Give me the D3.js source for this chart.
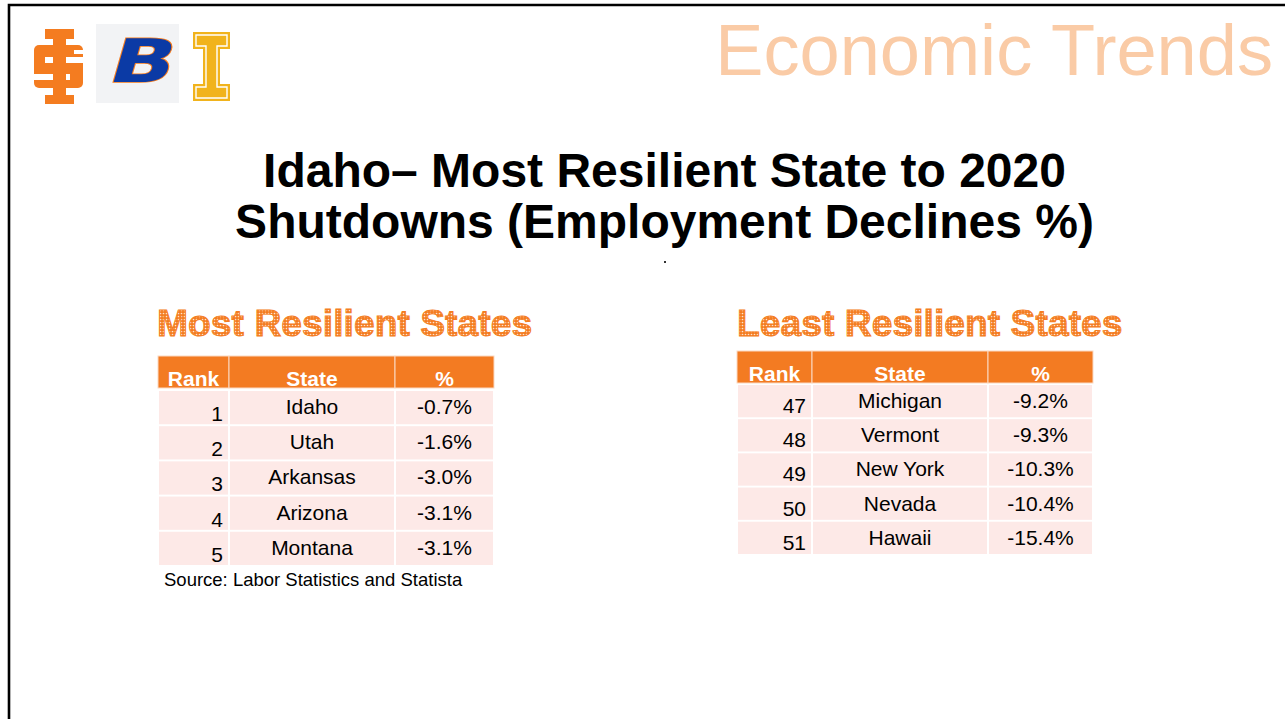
<!DOCTYPE html>
<html><head><meta charset="utf-8">
<script src="https://cdn.jsdelivr.net/npm/d3@7"></script>
<style>html,body{margin:0;padding:0;background:#fff;}svg{display:block;}</style>
</head><body>
<script>
// ---- data ----
const headers = ["Rank", "State", "%"];
const mostRanks = [1, 2, 3, 4, 5];
const mostStates = ["Idaho", "Utah", "Arkansas", "Arizona", "Montana"];
const mostPct = [-0.7, -1.6, -3.0, -3.1, -3.1];
const leastRanks = [47, 48, 49, 50, 51];
const leastStates = ["Michigan", "Vermont", "New York", "Nevada", "Hawaii"];
const leastPct = [-9.2, -9.3, -10.3, -10.4, -15.4];
const titleLines = ["Idaho\u2013 Most Resilient State to 2020", "Shutdowns (Employment Declines %)"];
const banner = "Economic Trends";
const source = "Source: Labor Statistics and Statista";

const W = 1285, H = 719;
const svg = d3.select("body").append("svg").attr("width", W).attr("height", H);
svg.append("rect").attr("width", W).attr("height", H).attr("fill", "#fff");

const defs = svg.append("defs");
const pat = defs.append("pattern").attr("id", "dots").attr("patternUnits", "userSpaceOnUse")
  .attr("width", 3).attr("height", 3);
pat.append("rect").attr("width", 3).attr("height", 3).attr("fill", "#F47C20");
pat.append("circle").attr("cx", 1.5).attr("cy", 1.5).attr("r", 0.85).attr("fill", "#FDE3CF");

// frame
svg.append("path").attr("d", `M9,${H + 10} L9,5 L${W + 10},5`).attr("fill", "none")
  .attr("stroke", "#000").attr("stroke-width", 2.6);

const FONT = "'Liberation Sans', Arial, sans-serif";

// ---- logos ----
const orange = "#F47C20";
const lg = svg.append("g");
// ISU logo
lg.append("rect").attr("x", 45).attr("y", 29).attr("width", 29).attr("height", 10).attr("fill", orange);
lg.append("rect").attr("x", 45).attr("y", 95).attr("width", 29).attr("height", 9).attr("fill", orange);
lg.append("rect").attr("x", 34).attr("y", 45).attr("width", 49).attr("height", 43).attr("rx", 5).attr("fill", orange);
lg.append("rect").attr("x", 45).attr("y", 57).attr("width", 39).attr("height", 6).attr("fill", "#fff");
lg.append("rect").attr("x", 33).attr("y", 74).attr("width", 37).attr("height", 6).attr("fill", "#fff");
lg.append("rect").attr("x", 74).attr("y", 50).attr("width", 10).attr("height", 4).attr("fill", "#fff");
lg.append("rect").attr("x", 53).attr("y", 38).attr("width", 13).attr("height", 58).attr("fill", orange);
// B logo
lg.append("rect").attr("x", 96).attr("y", 24).attr("width", 83).attr("height", 79).attr("fill", "#F2F3F5");
lg.append("text").attr("x", 0).attr("y", 0).attr("text-anchor", "middle")
  .attr("font-family", "'DejaVu Sans', sans-serif").attr("font-weight", "bold").attr("font-size", 60)
  .attr("transform", "translate(138,82) skewX(-16) scale(1.4,1)")
  .attr("fill", "#0B3AA5").attr("stroke", orange).attr("stroke-width", 1.6).attr("paint-order", "stroke")
  .text("B");
// gold I logo
const gold = "#F1B31C";
lg.append("path").attr("d", "M193,32 L230,32 L230,49 L220,49 L220,84 L230,84 L230,101 L193,101 L193,84 L203,84 L203,49 L193,49 Z")
  .attr("fill", gold);
lg.append("path").attr("d", "M196,35 L227,35 L227,46 L217,46 L217,87 L227,87 L227,98 L196,98 L196,87 L206,87 L206,46 L196,46 Z")
  .attr("fill", "none").attr("stroke", "#fff").attr("stroke-width", 1.4);

// ---- banner & title ----
svg.append("text").attr("x", 1273).attr("y", 75).attr("text-anchor", "end")
  .attr("font-family", FONT).attr("font-size", 72.2).attr("fill", "#FACBA6").text(banner);

svg.append("g").selectAll("text").data(titleLines).join("text")
  .attr("x", 664.5).attr("y", (d, i) => 187 + i * 51)
  .attr("text-anchor", "middle").attr("font-family", FONT).attr("font-weight", "bold")
  .attr("font-size", 48).attr("fill", "#000").text(d => d);

svg.append("rect").attr("x", 664).attr("y", 261).attr("width", 2).attr("height", 2).attr("fill", "#333");

// ---- tables ----
function drawTable(cfg) {
  const g = svg.append("g");
  g.append("text").attr("x", cfg.x0).attr("y", cfg.headY)
    .attr("font-family", FONT).attr("font-weight", "bold").attr("font-size", 37.3)
    .attr("fill", "url(#dots)").attr("stroke", "#F47C20").attr("stroke-width", 0.9)
    .text(cfg.heading);

  const cols = cfg.cols; // column edges
  const x = d3.scaleOrdinal().domain(headers).range(cols.slice(0, 3));
  const wOf = h => { const i = headers.indexOf(h); return cols[i + 1] - cols[i]; };

  // header
  g.selectAll("rect.h").data(headers).join("rect")
    .attr("x", d => x(d)).attr("y", cfg.top).attr("width", wOf).attr("height", cfg.headH)
    .attr("fill", "#F37B22").attr("stroke", "#FBD9C2").attr("stroke-width", 1);
  g.selectAll("text.h").data(headers).join("text")
    .attr("x", d => x(d) + wOf(d) / 2).attr("y", cfg.top + cfg.headH - 2)
    .attr("text-anchor", "middle").attr("font-family", FONT).attr("font-weight", "bold")
    .attr("font-size", 21).attr("fill", "#fff").text(d => d);

  const rows = cfg.ranks.map((r, i) => ({ rank: r, state: cfg.states[i], pct: cfg.pct[i] }));
  const y = d3.scaleBand().domain(cfg.ranks).range([cfg.bodyTop, cfg.bodyBottom]).paddingInner(0.055);

  const rg = g.selectAll("g.r").data(rows).join("g");
  headers.forEach(h => {
    rg.append("rect").attr("x", x(h) + 1).attr("y", d => y(d.rank))
      .attr("width", wOf(h) - 2).attr("height", y.bandwidth()).attr("fill", "#FDE9E7");
  });
  rg.append("text").attr("x", x("Rank") + wOf("Rank") - 6).attr("y", d => y(d.rank) + cfg.rankOff)
    .attr("text-anchor", "end").attr("font-family", FONT).attr("font-size", 21).attr("fill", "#000")
    .text(d => d.rank);
  rg.append("text").attr("x", x("State") + wOf("State") / 2).attr("y", d => y(d.rank) + cfg.txtOff)
    .attr("text-anchor", "middle").attr("font-family", FONT).attr("font-size", 21).attr("fill", "#000")
    .text(d => d.state);
  rg.append("text").attr("x", x("%") + wOf("%") / 2).attr("y", d => y(d.rank) + cfg.txtOff)
    .attr("text-anchor", "middle").attr("font-family", FONT).attr("font-size", 21).attr("fill", "#000")
    .text(d => d.pct.toFixed(1) + "%");
  return g;
}

drawTable({
  heading: "Most Resilient States", x0: 157, headY: 336,
  cols: [158, 229, 395, 494], top: 356, headH: 32,
  bodyTop: 391, bodyBottom: 565, rankOff: 30, txtOff: 23,
  ranks: mostRanks, states: mostStates, pct: mostPct
});
drawTable({
  heading: "Least Resilient States", x0: 737, headY: 336,
  cols: [737, 812, 988, 1093], top: 351, headH: 32,
  bodyTop: 385, bodyBottom: 554, rankOff: 28, txtOff: 23,
  ranks: leastRanks, states: leastStates, pct: leastPct
});

svg.append("text").attr("x", 164).attr("y", 586).attr("font-family", FONT).attr("font-size", 18.5)
  .attr("fill", "#000").text(source);
</script>
</body></html>
